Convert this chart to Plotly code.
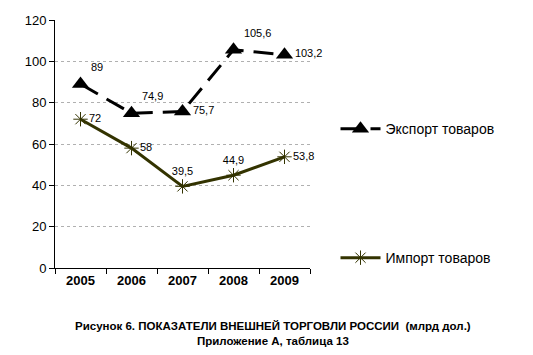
import plotly.graph_objects as go

years = ["2005", "2006", "2007", "2008", "2009"]
export_vals = [89, 74.9, 75.7, 105.6, 103.2]
import_vals = [72, 58, 39.5, 44.9, 53.8]
export_labels = ["89", "74,9", "75,7", "105,6", "103,2"]
import_labels = ["72", "58", "39,5", "44,9", "53,8"]
y_ticks = [0, 20, 40, 60, 80, 100, 120]

FONT = "Liberation Sans, Arial, sans-serif"

fig = go.Figure()
fig.add_trace(go.Scatter(
    x=years, y=export_vals, name="Экспорт товаров",
    mode="lines+markers+text",
    line=dict(color="black", width=3, dash="20px,10px"),
    marker=dict(symbol="triangle-up", size=15, color="black"),
    text=export_labels,
    textposition=["top right", "top right", "middle right", "top right", "middle right"],
    textfont=dict(family=FONT, size=11, color="black"),
    cliponaxis=False,
    legend="legend",
))
fig.add_trace(go.Scatter(
    x=years, y=import_vals, name="Импорт товаров",
    mode="lines+markers+text",
    line=dict(color="#333300", width=3),
    marker=dict(symbol="asterisk-open", size=12, color="#333300", line=dict(color="#333300", width=1)),
    text=import_labels,
    textposition=["middle right", "middle right", "top center", "top center", "middle right"],
    textfont=dict(family=FONT, size=11, color="black"),
    cliponaxis=False,
    legend="legend2",
))

fig.update_layout(
    width=533, height=355,
    margin=dict(l=55, r=223, t=20, b=87),
    paper_bgcolor="white", plot_bgcolor="white",
    font=dict(family=FONT, color="black"),
    showlegend=True,
    legend=dict(x=1.1, y=0.56, xanchor="left", yanchor="middle",
                font=dict(family=FONT, size=14, color="black"),
                bgcolor="rgba(0,0,0,0)", itemwidth=40, tracegroupgap=0),
    legend2=dict(x=1.1, y=0.04, xanchor="left", yanchor="middle",
                 font=dict(family=FONT, size=14, color="black"),
                 bgcolor="rgba(0,0,0,0)", itemwidth=40),
    xaxis=dict(type="category", tickson="boundaries", ticks="outside", ticklen=5,
               tickcolor="black", showline=True, linecolor="black", linewidth=1,
               showgrid=False, range=[-0.5, 4.5],
               tickfont=dict(family=FONT, size=13, color="black", weight="bold")),
    yaxis=dict(range=[0, 120], tickvals=y_ticks, ticks="outside", ticklen=5,
               tickcolor="black", showline=True, linecolor="black", linewidth=1,
               showgrid=True, gridcolor="#b0b0b0", griddash="dot", gridwidth=1,
               zeroline=False,
               tickfont=dict(family=FONT, size=13, color="black")),
    annotations=[dict(
        text="<b>Рисунок 6. ПОКАЗАТЕЛИ ВНЕШНЕЙ ТОРГОВЛИ РОССИИ  (млрд дол.)<br>Приложение А, таблица 13</b>",
        xref="paper", yref="paper", x=0.855, y=-0.2, xanchor="center", yanchor="top",
        showarrow=False, font=dict(family=FONT, size=11.5, color="black"))],
)

fig.write_html("out.html")
